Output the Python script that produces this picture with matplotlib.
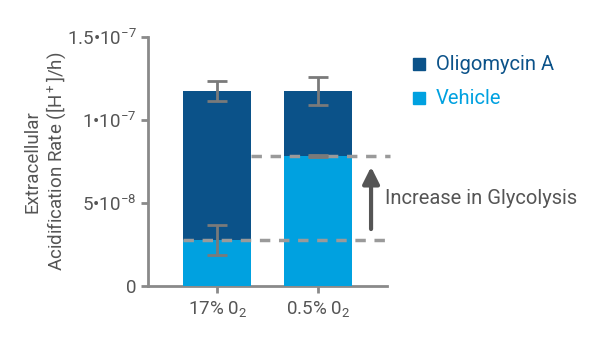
import matplotlib
matplotlib.use('Agg')
import matplotlib.pyplot as plt

plt.rcParams['font.family'] = ['Roboto', 'DejaVu Sans']
plt.rcParams['mathtext.fontset'] = 'custom'
plt.rcParams['mathtext.rm'] = 'Roboto'
plt.rcParams['mathtext.it'] = 'Roboto'
plt.rcParams['mathtext.default'] = 'regular'

conditions = ['17% 0$_2$', '0.5% 0$_2$']
oligomycin = [1.176e-7, 1.176e-7]
oligomycin_err = [0.62e-8, 0.85e-8]
vehicle = [2.77e-8, 7.85e-8]
vehicle_err = [0.9e-8, 0.05e-8]
yticks = [0, 5e-8, 1e-7, 1.5e-7]
yticklabels = ['0', '5•10$^{-8}$', '1•10$^{-7}$', '1.5•10$^{-7}$']

dark = '#0b5289'
light = '#00a1e0'
gray = '#8a8a8a'
textc = '#555555'

fig = plt.figure(figsize=(6, 3.41), dpi=100)
ax = fig.add_axes([0.247, 0.161, 0.398, 0.73])

x = range(len(conditions))
ax.bar(x, oligomycin, width=0.673, color=dark, zorder=2)
ax.bar(x, vehicle, width=0.673, color=light, zorder=3)
ax.errorbar(x, oligomycin, yerr=oligomycin_err, fmt='none', ecolor='#7a7a7a',
            elinewidth=2, capsize=7, capthick=2, zorder=5)
ax.errorbar(x, vehicle, yerr=vehicle_err, fmt='none', ecolor='#7a7a7a',
            elinewidth=2, capsize=7, capthick=2, zorder=5)

# dashed guide lines for the vehicle levels
ax.plot([-0.337, 1.713], [vehicle[0]] * 2, ls=(0, (3, 2.5)), color='#9a9a9a',
        lw=2.5, clip_on=False, zorder=4)
ax.plot([0.337, 1.713], [vehicle[1]] * 2, ls=(0, (3, 2.5)), color='#9a9a9a',
        lw=2.5, clip_on=False, zorder=4)

ax.annotate('', xy=(1.525, vehicle[1] - 0.5e-8), xytext=(1.525, vehicle[0] + 0.5e-8),
            arrowprops=dict(arrowstyle='-|>,head_width=0.5,head_length=1.0',
                            color='#555555', lw=3), annotation_clip=False)
ax.text(1.663, (vehicle[0] + vehicle[1]) / 2 - 0.05e-8, 'Increase in Glycolysis',
        fontsize=14.5, color=textc, va='center', ha='left', clip_on=False)

ax.set_xlim(-0.683, 1.683)
ax.set_ylim(0, 1.5e-7)
ax.set_yticks(yticks)
ax.set_yticklabels(yticklabels)
ax.set_xticks(list(x))
ax.set_xticklabels(conditions)
for s in ['top', 'right']:
    ax.spines[s].set_visible(False)
for s in ['left', 'bottom']:
    ax.spines[s].set_color(gray)
    ax.spines[s].set_linewidth(2)
ax.tick_params(colors=gray, width=2, length=5, labelcolor=textc, labelsize=13.5)
ax.tick_params(axis='x', pad=4)
ax.set_ylabel('Extracellular\nAcidification Rate ([H$^+$]/h)', fontsize=13.5,
              color=textc, linespacing=1.15)
ax.yaxis.set_label_coords(-0.43, 0.5)
ax.yaxis.label.set_va('center')

# legend drawn by hand to match the colored labels
fig.patches.append(plt.Rectangle((413 / 600, 1 - 70 / 341), 12 / 600, 12 / 341,
                                 transform=fig.transFigure, color=dark))
fig.patches.append(plt.Rectangle((413 / 600, 1 - 104 / 341), 12 / 600, 12 / 341,
                                 transform=fig.transFigure, color=light))
fig.text(436 / 600, 1 - 64 / 341, 'Oligomycin A', color=dark, fontsize=14.5, va='center')
fig.text(436 / 600, 1 - 98 / 341, 'Vehicle', color=light, fontsize=14.5, va='center')

fig.savefig('out.png', dpi=100)
